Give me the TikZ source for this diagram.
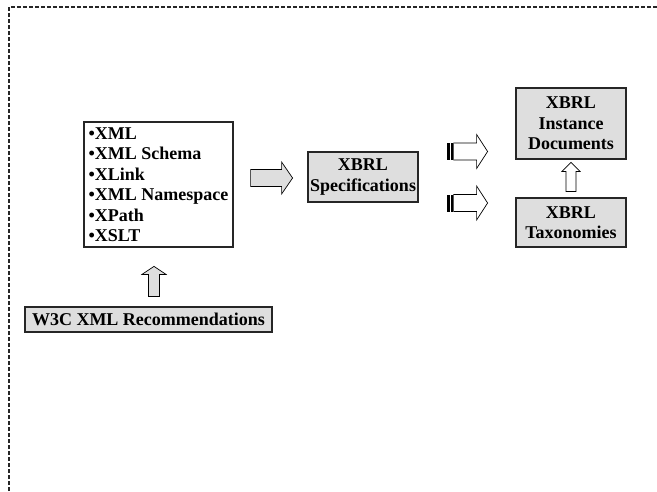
\documentclass[tikz,border=0pt]{standalone}
\usepackage{fontspec}
\setmainfont{Liberation Serif}
\usetikzlibrary{calc}
\begin{document}
\begin{tikzpicture}[x=1pt,y=-1pt,
  box/.style={draw=black!85, line width=1.2pt, inner sep=0pt, align=center,
    font=\bfseries\fontsize{18}{20.5}\selectfont},
  graybox/.style={box, fill=black!13},
  arrowline/.style={draw=black, line width=0.7pt, line join=miter},
  frameline/.style={draw=black!85, line width=1.5pt, dash pattern=on 4pt off 2pt},
  grayright/.pic={\draw[arrowline, fill=black!13]
    (0,-8.5) -- (31,-8.5) -- (31,-16) -- (42,0) -- (31,16) -- (31,8.5) -- (0,8.5) -- cycle;},
  grayup/.pic={\draw[arrowline, fill=black!13]
    (-5.5,0) -- (-5.5,-22) -- (-12,-22) -- (0,-30) -- (12,-22) -- (5.5,-22) -- (5.5,0) -- cycle;},
  whiteup/.pic={\draw[arrowline, fill=white]
    (-5,0) -- (-5,-20) -- (-9,-20) -- (0,-29) -- (9,-20) -- (5,-20) -- (5,0) -- cycle;},
  stripedright/.pic={
    \fill[black] (0,-8.5) rectangle (3,8.5);
    \fill[black] (4.3,-8.5) rectangle (6,8.5);
    \draw[arrowline, fill=white]
      (7,-8.5) -- (30,-8.5) -- (30,-17) -- (41,0) -- (30,17) -- (30,8.5) -- (7,8.5) -- cycle;}
]
\useasboundingbox (0,0) rectangle (657,491);

% open dashed frame (top and left edges only)
\coordinate (fbl) at (9,491);
\coordinate (ftl) at (9,7);
\coordinate (ftr) at (657,7);
\draw[frameline] (fbl) -- (ftl) -- (ftr);

% boxes
\node[box, fill=white, minimum width=149pt, minimum height=125pt, align=left]
  (list) at (158.5,184.5)
  {\textbullet XML\\\textbullet XML Schema\\\textbullet XLink\\\textbullet XML Namespace\\\textbullet XPath\\\textbullet XSLT};
\node[graybox, minimum width=247pt, minimum height=25pt] (w3c) at (148.5,319.5)
  {W3C XML Recommendations};
\node[graybox, minimum width=110pt, minimum height=50pt] (spec) at (363,177)
  {XBRL\\Specifications};
\node[graybox, minimum width=110pt, minimum height=71pt] (inst) at (571,123.5)
  {XBRL\\Instance\\Documents};
\node[graybox, minimum width=110pt, minimum height=49pt] (tax) at (571,222.5)
  {XBRL\\Taxonomies};

% block arrows
\coordinate (a1) at ([xshift=17pt]list.east |- 0,178);
\pic at (a1) {grayright};
\coordinate (a2) at ([yshift=10pt]w3c.north -| 154,0);
\pic at (a2) {grayup};
\coordinate (a3) at ([yshift=6pt]tax.north);
\pic at (a3) {whiteup};
\coordinate (a4) at ([xshift=28pt]spec.east |- 0,151.5);
\pic at (a4) {stripedright};
\coordinate (a5) at ([xshift=28pt]spec.east |- 0,203);
\pic at (a5) {stripedright};
\end{tikzpicture}
\end{document}
